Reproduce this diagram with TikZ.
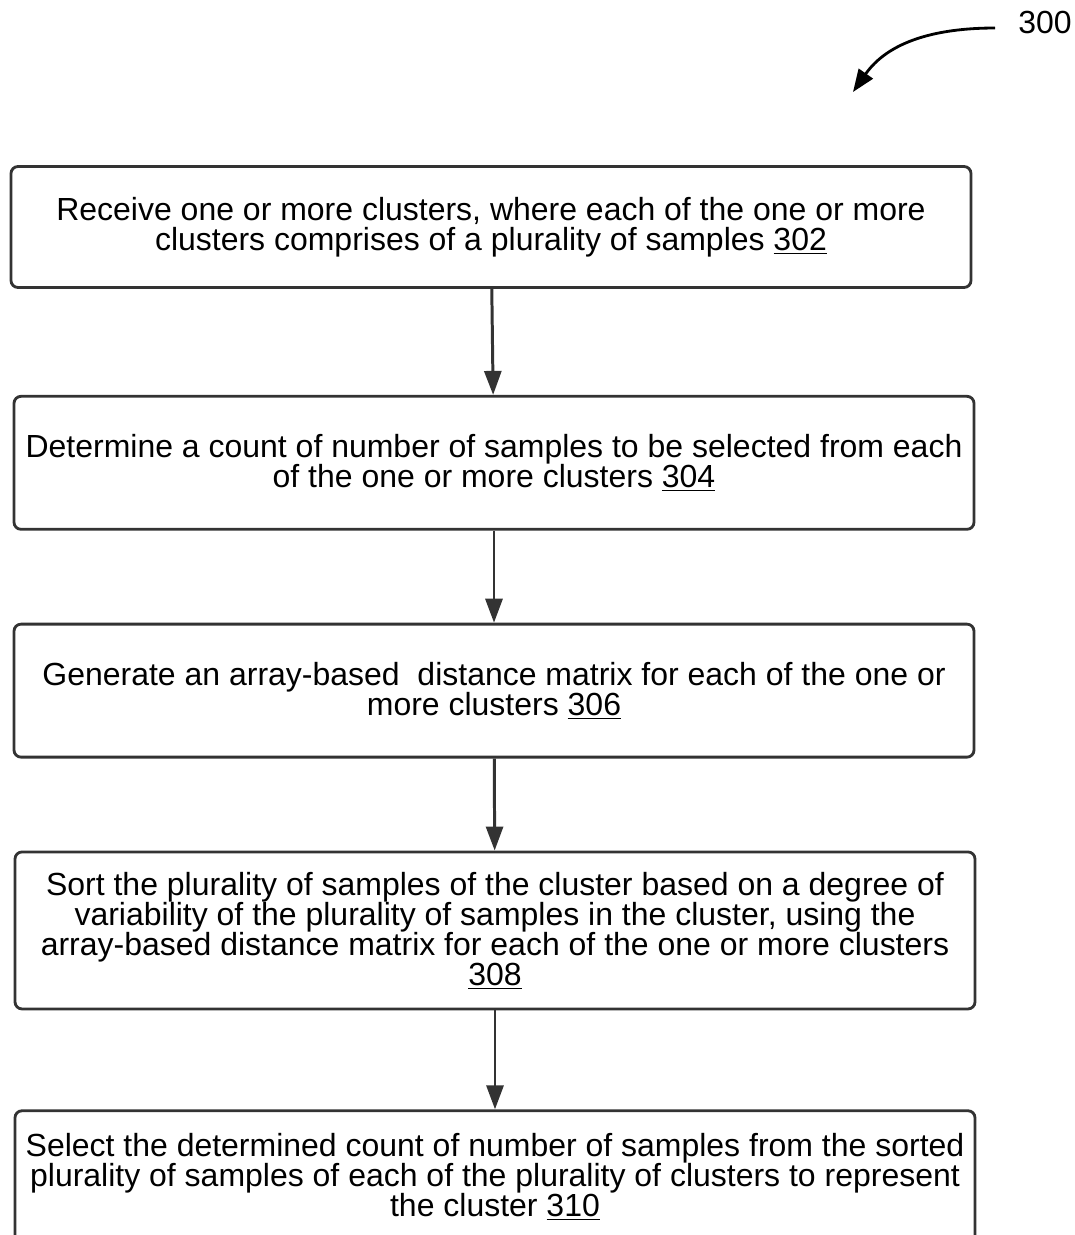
\documentclass[tikz,border=0pt]{standalone}
\usepackage{fontspec}
\setmainfont{Liberation Sans}
\usetikzlibrary{positioning, arrows.meta}
\definecolor{linegray}{HTML}{333333}
\tikzstyle{stepbox} = [
    rectangle,
    rounded corners=4pt,
    minimum width=19.2cm,
    minimum height=2.66cm,
    line width=1.6pt,
    draw=linegray,
    align=center,
    font=\fontsize{18.2}{17.1}\selectfont
]
\tikzstyle{arrow} = [line width=1.7pt, draw=linegray, -{Triangle[length=0.48cm, width=0.34cm]}]

\begin{document}
\begin{tikzpicture}[node distance=1.84cm]

\useasboundingbox (0,0) rectangle (21.5,-24.7);

\node (num) at (20.9,-0.44) {\fontsize{18.2}{17}\selectfont 300};
\coordinate (tail) at (19.9,-0.56);
\coordinate (tip) at (17.06,-1.84);

\node (box1) [stepbox, minimum height=2.42cm] at (9.82,-4.54)
{Receive one or more clusters, where each of the one or more\\
clusters comprises of a plurality of samples \underline{302}};

\node (box2) [stepbox, below=2.12cm of box1, xshift=0.06cm]
{Determine a count of number of samples to be selected from each\\
of the one or more clusters \underline{304}};

\node (box3) [stepbox, below=of box2]
{Generate an array-based\ \ distance matrix for each of the one or\\
more clusters \underline{306}};

\node (box4) [stepbox, minimum height=3.14cm, below=of box3, xshift=0.02cm]
{Sort the plurality of samples of the cluster based on a degree of\\
variability of the plurality of samples in the cluster, using the\\
array-based distance matrix for each of the one or more clusters\\
\underline{308}};

\node (box5) [stepbox, below=1.98cm of box4]
{Select the determined count of number of samples from the sorted\\
plurality of samples of each of the plurality of clusters to represent\\
the cluster \underline{310}};

\draw [arrow] (box1) -- (box2);
\draw [arrow] (box2) -- (box3);
\draw [arrow] (box3) -- (box4);
\draw [arrow] (box4) -- (box5);

\draw [line width=1.6pt, -{Triangle[length=0.45cm, width=0.34cm]}] (tail) to[out=180, in=55] (tip);

\end{tikzpicture}
\end{document}
